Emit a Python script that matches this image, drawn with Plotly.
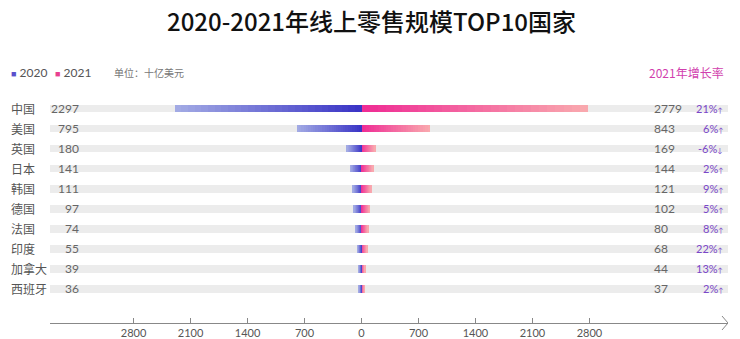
import plotly.graph_objects as go

# Online retail sales (billion USD), top 10 countries
countries = ["中国", "美国", "英国", "日本", "韩国", "德国", "法国", "印度", "加拿大", "西班牙"]
sales_2020 = [2297, 795, 180, 141, 111, 97, 74, 55, 39, 36]
sales_2021 = [2779, 843, 169, 144, 121, 102, 80, 68, 44, 37]
growth_2021 = ["21%", "6%", "-6%", "2%", "9%", "5%", "8%", "22%", "13%", "2%"]
tick_values = [-2800, -2100, -1400, -700, 0, 700, 1400, 2100, 2800]
tick_labels = ["2800", "2100", "1400", "700", "0", "700", "1400", "2100", "2800"]

W, H = 740, 339
X_MIN, X_MAX = -3827, 4502
Y_TOP, Y_BOTTOM = -5.411, 10.698
N_SEG = 28
BAR_W = 0.38
FONT = "Noto Sans CJK SC"
NUM_FONT = "Lato"

rows = list(range(len(countries)))


def mix(c1, c2, t):
    a = [int(c1[i:i + 2], 16) for i in (1, 3, 5)]
    b = [int(c2[i:i + 2], 16) for i in (1, 3, 5)]
    return "#%02x%02x%02x" % tuple(round(a[j] + (b[j] - a[j]) * t) for j in range(3))


BLUE_DARK, BLUE_LIGHT = "#3b35c6", "#a2aae4"
PINK_DARK, PINK_LIGHT = "#ef2d94", "#f9a8ae"

fig = go.Figure()

# grey track behind each row
fig.add_trace(go.Bar(
    y=rows, x=[X_MAX - X_MIN] * len(rows), base=[X_MIN] * len(rows),
    orientation="h", width=BAR_W, marker=dict(color="#ececec", line=dict(width=0)),
    hoverinfo="skip", showlegend=False,
))

# gradient bars: each bar is cut into short segments, dark at the centre
for k in range(N_SEG):
    t = k / (N_SEG - 1)
    fig.add_trace(go.Bar(
        y=rows, x=[v / N_SEG * 1.02 for v in sales_2020],
        base=[-(k + 1) * v / N_SEG for v in sales_2020],
        orientation="h", width=BAR_W,
        marker=dict(color=mix(BLUE_DARK, BLUE_LIGHT, t), line=dict(width=0)),
        hoverinfo="skip", showlegend=False,
    ))
    fig.add_trace(go.Bar(
        y=rows, x=[v / N_SEG * 1.02 for v in sales_2021],
        base=[k * v / N_SEG for v in sales_2021],
        orientation="h", width=BAR_W,
        marker=dict(color=mix(PINK_DARK, PINK_LIGHT, t), line=dict(width=0)),
        hoverinfo="skip", showlegend=False,
    ))

annotations = []
for i, name in enumerate(countries):
    annotations.append(dict(x=9 / W, xref="paper", y=i, yref="y", text=name,
                            xanchor="left", yanchor="middle", showarrow=False,
                            font=dict(family=FONT, size=12, color="#555555")))
    annotations.append(dict(x=81 / W, xref="paper", y=i, yref="y", text=str(sales_2020[i]),
                            xanchor="right", yanchor="middle", showarrow=False,
                            font=dict(family=NUM_FONT, size=12, color="#666666")))
    annotations.append(dict(x=652 / W, xref="paper", y=i, yref="y", text=str(sales_2021[i]),
                            xanchor="left", yanchor="middle", showarrow=False,
                            font=dict(family=NUM_FONT, size=12, color="#666666")))
    arrow = "↓" if growth_2021[i].startswith("-") else "↑"
    annotations.append(dict(x=725 / W, xref="paper", y=i, yref="y",
                            text=growth_2021[i] + "<span style='font-size:7px'>" + arrow + "</span>",
                            xanchor="right", yanchor="middle", showarrow=False,
                            font=dict(family=NUM_FONT, size=11, color="#7a46c8")))

plot_h = H - 16


def py(px):
    return 1 - px / plot_h


annotations += [
    dict(x=0.502, xref="paper", y=py(21), yref="paper", text="2020-2021年线上零售规模TOP10国家",
         xanchor="center", yanchor="middle", showarrow=False,
         font=dict(family=FONT, size=24, color="#111111", weight=500)),
    dict(x=9 / W, xref="paper", y=py(73), yref="paper",
         text="<span style='color:#5a50cc;font-size:9px'>■</span> 2020",
         xanchor="left", yanchor="middle", showarrow=False,
         font=dict(family=NUM_FONT, size=12, color="#555555")),
    dict(x=53 / W, xref="paper", y=py(73), yref="paper",
         text="<span style='color:#e8408f;font-size:9px'>■</span> 2021",
         xanchor="left", yanchor="middle", showarrow=False,
         font=dict(family=NUM_FONT, size=12, color="#555555")),
    dict(x=112 / W, xref="paper", y=py(73), yref="paper", text="单位：十亿美元",
         xanchor="left", yanchor="middle", showarrow=False,
         font=dict(family=FONT, size=10, color="#777777")),
    dict(x=726 / W, xref="paper", y=py(73), yref="paper", text="2021年增长率",
         xanchor="right", yanchor="middle", showarrow=False,
         font=dict(family=FONT, size=12, color="#d13fae")),
]

# open arrowhead at the right end of the value axis
shapes = [dict(type="path", xref="x", yref="paper", xsizemode="pixel", ysizemode="pixel",
               xanchor=X_MAX, yanchor=0, path="M -6,7 L 0,0 L -6,-7",
               line=dict(color="#888888", width=1))]

fig.update_layout(
    width=W, height=H,
    margin=dict(l=0, r=0, t=0, b=16),
    paper_bgcolor="white", plot_bgcolor="white",
    barmode="overlay", bargap=0,
    showlegend=False,
    annotations=annotations, shapes=shapes,
    xaxis=dict(domain=[50 / W, 728 / W], range=[X_MIN, X_MAX],
               tickvals=tick_values, ticktext=tick_labels,
               ticks="inside", ticklen=5, tickcolor="#888888",
               showline=True, linecolor="#888888", linewidth=1,
               showgrid=False, zeroline=False, fixedrange=True,
               tickfont=dict(family=NUM_FONT, size=11, color="#555555")),
    yaxis=dict(range=[Y_BOTTOM, Y_TOP], visible=False, showgrid=False, fixedrange=True),
)

fig.write_html("out.html")
